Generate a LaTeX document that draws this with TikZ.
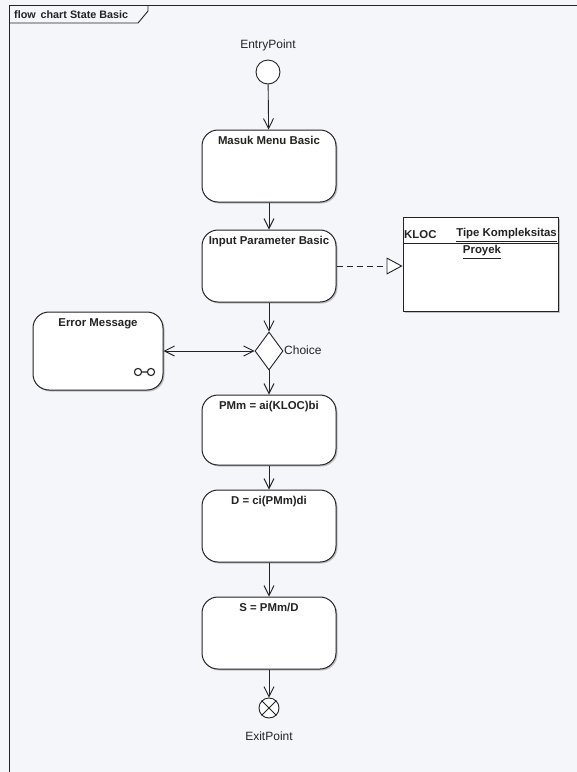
\documentclass[tikz,border=0pt]{standalone}
\usepackage{fontspec}
\setmainfont{Liberation Sans}
\usetikzlibrary{arrows.meta,shapes.geometric,shadows}
\definecolor{bg}{RGB}{245,246,250}
\definecolor{ink}{RGB}{35,35,35}
\newcommand{\bfnt}{\fontsize{11.4}{13}\selectfont\bfseries}
\newcommand{\rgfnt}{\fontsize{12}{14}\selectfont}
\begin{document}
\begin{tikzpicture}[x=1pt,y=-1pt,
  act/.style={draw=ink, line width=1pt, rounded corners=16pt, fill=white,
    minimum width=134pt, minimum height=72pt, inner sep=0pt,
    drop shadow={shadow xshift=1.5pt, shadow yshift=-1.5pt, opacity=0.45, fill=gray}},
  ttl/.style={font=\bfnt, text=ink, anchor=north, inner sep=0pt, yshift=-7pt},
  arr/.style={draw=ink, line width=0.9pt, -{Straight Barb[length=10pt,width=10pt,line width=0.9pt]}},
  lbl/.style={font=\rgfnt, text=ink, inner sep=0pt}
]
\fill[bg] (0,0) rectangle (577,772);
\useasboundingbox (0,0) rectangle (577,772);

% frame
\draw[ink, line width=1pt] (9,772) -- (9,5) -- (577,5);
\draw[ink, line width=0.9pt] (9,23) -- (138,23) -- (148,11) -- (148,5);
\node[font=\fontsize{10.8}{12}\selectfont\bfseries, text=ink, anchor=west, inner sep=0pt] (title) at (14,15) {flow\, chart State Basic};

% entry
\node[lbl] (entrylbl) at (268,45) {EntryPoint};
\node[draw=ink, line width=0.9pt, circle, minimum size=24pt, inner sep=0pt, fill=white] (entry) at (268,72) {};

% activity boxes
\node[act, label={[ttl]north:Masuk Menu Basic}] (b1) at (269,166) {};
\node[act, label={[ttl]north:Input Parameter Basic}] (b2) at (269,266) {};
\node[act, minimum height=70pt, label={[ttl]north:PMm = ai(KLOC)bi}] (b3) at (269,430) {};
\node[act, label={[ttl]north:D = ci(PMm)di}] (b4) at (269,526) {};
\node[act, label={[ttl]north:S = PMm/D}] (b5) at (269,633) {};

% choice
\node[draw=ink, line width=0.9pt, diamond, minimum width=28pt, minimum height=38pt, inner sep=0pt, aspect=0.7, fill=white] (ch) at (269,351) {};
\node[lbl, anchor=west] (chlbl) at (284,350) {Choice};

% error message
\node[act, minimum width=130pt, minimum height=78pt, label={[ttl]north:Error Message}] (err) at (98,351) {};
\draw[ink, line width=1.1pt] (138,372) circle (3.6pt) (151,372) circle (3.6pt) (141.6,372) -- (147.4,372);

% KLOC object
\node[draw=ink, line width=1pt, fill=white, minimum width=155pt, minimum height=94pt, inner sep=0pt,
  drop shadow={shadow xshift=1.5pt, shadow yshift=-1.5pt, opacity=0.45, fill=gray}] (kloc) at (480.5,264) {};
\draw[ink, line width=0.9pt] (kloc.west |- 0,243) -- (kloc.east |- 0,243);
\node[font=\bfnt, text=ink, anchor=west, inner sep=0pt] (klocA) at (404,235) {KLOC};
\node[font=\bfnt, text=ink, anchor=east, inner sep=0pt] (klocB) at (557,235) {\underline{Tipe Kompleksitas}};
\node[font=\bfnt, text=ink, anchor=center, inner sep=0pt] (klocC) at (482,252) {\underline{Proyek}};

% exit
\node[draw=ink, line width=0.9pt, circle, minimum size=20pt, inner sep=0pt, fill=white] (ex) at (269,708) {};
\draw[ink, line width=0.9pt] (ex.45) -- (ex.225) (ex.135) -- (ex.315);
\node[lbl] (exlbl) at (269,736) {ExitPoint};

% connectors
\draw[arr] (entry) -- (b1);
\draw[arr] (b1) -- (b2);
\draw[arr] (b2) -- (ch);
\draw[arr] (ch) -- (b3);
\draw[arr] (b3) -- (b4);
\draw[arr] (b4) -- (b5);
\draw[arr] (b5) -- (ex);
\draw[draw=ink, line width=0.9pt, {Straight Barb[length=10pt,width=10pt,line width=0.9pt]}-{Straight Barb[length=10pt,width=10pt,line width=0.9pt]}] (err) -- (ch);
\draw[draw=ink, line width=0.9pt, dash pattern=on 6pt off 4pt, -{Triangle[open,length=16pt,width=17pt,line width=0.9pt,fill=white]}] (b2.east) -- (b2.east -| kloc.west);
\end{tikzpicture}
\end{document}
